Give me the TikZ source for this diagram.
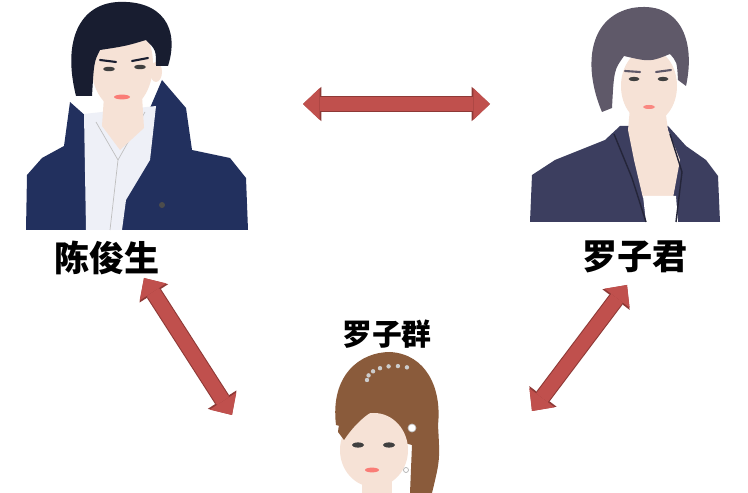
\documentclass[tikz,border=0pt]{standalone}
\usepackage{fontspec}
\newfontfamily\cjk{Noto Sans CJK SC}
\usetikzlibrary{arrows.meta}
\definecolor{skin}{HTML}{F6E2D6}
\definecolor{manhair}{HTML}{181D30}
\definecolor{coat}{HTML}{22305E}
\definecolor{shirt}{HTML}{EEF0F7}
\definecolor{junhair}{HTML}{5F5969}
\definecolor{suit}{HTML}{3C3E5F}
\definecolor{qunhair}{HTML}{8A5B3B}
\definecolor{relfill}{HTML}{C0504D}
\definecolor{reledge}{HTML}{8E3936}
\tikzset{
  personname/.style={font=\cjk\bfseries\fontsize{20}{22}\selectfont, inner sep=0pt},
  relback/.style={reledge, line width=9.4pt,
    {Triangle[length=10.4pt,width=19.4pt,line width=0pt]}-{Triangle[length=10.4pt,width=19.4pt,line width=0pt]}},
  rel/.style={relfill, line width=8.2pt,
    {Triangle[length=9.4pt,width=18pt,line width=0pt]}-{Triangle[length=9.4pt,width=18pt,line width=0pt]}},
  eye/.style={fill=black!75},
  brow/.style={draw=manhair, line width=1.2pt, line cap=round}
}
\begin{document}
\begin{tikzpicture}[x=0.02cm,y=-0.02cm]
        \useasboundingbox[fill=white] (0,0) rectangle (748,493);
        % Chen Junsheng
        \fill[coat] (26,230) -- (27,175) -- (42,158) -- (64,146) -- (70,102) -- (88,118) -- (150,108) -- (162,80) -- (186,108) -- (192,150) -- (230,158) -- (246,178) -- (248,230) -- cycle;
        \fill[shirt] (84,114) -- (156,106) -- (150,160) -- (126,200) -- (122,230) -- (86,230) -- cycle;
        \draw[black!25] (96,122) -- (118,160) -- (145,112) (118,160) -- (110,230);
        \fill[skin] (104,96) -- (142,96) -- (144,128) -- (120,150) -- (102,126) -- cycle;
        \fill[skin] (122,64) ellipse [x radius=31, y radius=46];
        \fill[skin] (156,72) ellipse [x radius=6, y radius=10];
        \fill[manhair] (76,96) .. controls (62,40) and (80,4) .. (118,2) .. controls (162,0) and (180,28) .. (168,66) -- (156,66) .. controls (156,50) .. (146,40) .. controls (126,46) .. (100,50) .. controls (94,62) .. (92,96) -- cycle;
        \draw[brow] (100,60) -- (116,62) (132,61) -- (148,58);
        \fill[eye] (109,69) ellipse [x radius=6, y radius=2.2];
        \fill[eye] (140,67) ellipse [x radius=6, y radius=2.2];
        \fill[red!45!skin] (122,97) ellipse [x radius=8, y radius=2.4];
        \fill[black!70] (162,205) circle [radius=3];
        \node[personname] (chen) at (107,258) {陈俊生};
        % Luo Zijun
        \fill[suit] (530,222) -- (532,175) -- (555,160) -- (605,140) -- (620,126) -- (668,126) -- (686,146) -- (706,160) -- (718,176) -- (720,222) -- cycle;
        \fill[skin] (630,108) -- (665,108) -- (668,130) -- (680,160) -- (673,198) -- (643,198) -- (634,160) -- (628,130) -- cycle;
        \fill[white] (643,196) -- (676,196) -- (678,222) -- (646,222) -- cycle;
        \draw[suit!60!black, line width=0.8pt] (614,134) -- (632,178) -- (646,222) (670,134) -- (682,172) -- (676,222);
        \fill[skin] (649,86) ellipse [x radius=28, y radius=37];
        \fill[junhair] (602,112) .. controls (584,70) and (586,18) .. (632,8) .. controls (680,0) and (696,40) .. (686,86) -- (678,80) .. controls (677,62) .. (670,54) .. controls (650,62) .. (624,56) .. controls (614,70) .. (612,108) -- cycle;
        \draw[brow, draw=junhair] (625,71) -- (640,72) (656,72) -- (671,70);
        \fill[eye] (634,79) ellipse [x radius=5.5, y radius=2.2];
        \fill[eye] (663,79) ellipse [x radius=5.5, y radius=2.2];
        \fill[red!40!skin] (649,107) ellipse [x radius=6, y radius=2];
        \node[personname] (zijun) at (635,257) {罗子君};
        % Luo Ziqun
        \fill[qunhair] (336,425) .. controls (330,375) and (360,352) .. (390,352) .. controls (426,354) and (442,388) .. (438,425) .. controls (440,460) .. (432,493) -- (410,493) -- (412,445) -- cycle;
        \fill[skin] (374,450) ellipse [x radius=34, y radius=37];
        \fill[skin] (362,480) rectangle (392,493);
        \fill[qunhair] (338,432) .. controls (342,388) and (384,374) .. (416,398) .. controls (396,400) and (368,404) .. (344,440) -- cycle;
        \foreach \t in {0,12,...,72}
          \fill[black!20] ({395+28*cos(180+\t*1.6)},{380+14*sin(180+\t*1.6)}) circle [radius=2.2];
        \fill[white, draw=black!25] (412,428) circle [radius=4];
        \fill[white, draw=black!30] (406,470) circle [radius=2.5];
        \fill[eye] (358,445) ellipse [x radius=6, y radius=2.6];
        \fill[eye] (389,445) ellipse [x radius=6, y radius=2.6];
        \fill[red!45!skin] (372,470) ellipse [x radius=7, y radius=2.4];
        \node[personname, font=\cjk\bfseries\fontsize{17}{19}\selectfont] (ziqun) at (387,334) {罗子群};
        % relations
        \coordinate (cz1) at (303,104);
        \coordinate (cz2) at (490,104);
        \coordinate (cq1) at (144,278);
        \coordinate (cq2) at (232,415);
        \coordinate (jq1) at (627,285);
        \coordinate (jq2) at (532,411);
        \foreach \a/\b in {cz1/cz2,cq1/cq2,jq1/jq2} {
          \draw[relback] (\a) -- (\b);
          \draw[rel] (\a) -- (\b);
        }
    \end{tikzpicture}
\end{document}
